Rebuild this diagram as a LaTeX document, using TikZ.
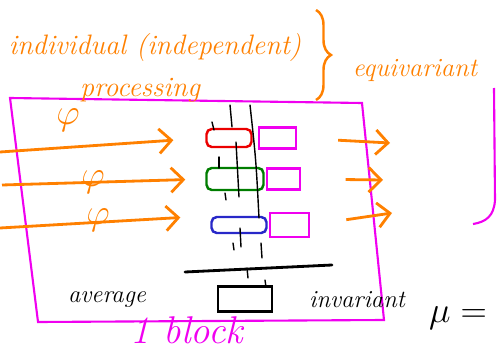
\documentclass[tikz,border=0pt]{standalone}
\usepackage{amsmath, amssymb}
\usepackage{tikz}
\usetikzlibrary{positioning}
\usetikzlibrary{arrows.meta, decorations.pathreplacing}
\definecolor{penorange}{RGB}{255,128,0}
\definecolor{penmagenta}{RGB}{240,0,240}
\definecolor{penred}{RGB}{235,0,0}
\definecolor{pengreen}{RGB}{0,125,0}
\definecolor{penblue}{RGB}{40,40,200}
\tikzstyle{note} = [text=penorange, font=\fontsize{16}{18}\selectfont\itshape, inner sep=0pt]
\tikzstyle{blacknote} = [text=black, font=\fontsize{14}{16}\selectfont\itshape, inner sep=0pt]
\tikzstyle{phibox} = [rectangle, rounded corners=3pt, line width=1.4pt, inner sep=0pt]
\tikzstyle{outbox} = [rectangle, draw=penmagenta, line width=1.4pt, inner sep=0pt]
\tikzstyle{flow} = [penorange, line width=1.6pt, ->, >={Straight Barb[length=7pt,width=14pt]}]
\tikzstyle{blockline} = [penmagenta, line width=1.2pt]
\tikzstyle{stroke} = [black, line width=0.8pt, line cap=round]

\begin{document}
\begin{tikzpicture}[x=0.02cm, y=-0.02cm]
\useasboundingbox (0,0) rectangle (497,358);
% the block
\draw [blockline] (10,98) -- (362,103) -- (384,320) -- (38,322) -- cycle;
\draw [blockline] (494,88) -- (495,200) .. controls (494,216) and (486,222) .. (473,224);
\node (block) [note, text=penmagenta, font=\fontsize{22}{24}\selectfont\itshape] at (187,330) {1 block};
% headings
\node (indiv) [note] at (155,47) {individual (independent)};
\node (proc) [note, below of=indiv, node distance=0.86cm, xshift=-0.3cm] {processing};
\draw [penorange, line width=1.4pt, decorate, decoration={brace, amplitude=0.3cm}] (316,10) -- (316,100);
\node (equiv) [note, font=\fontsize{15}{18}\selectfont\itshape] at (415,70) {equivariant};
% per-element boxes
\node (redbox) [phibox, draw=penred, minimum width=0.9cm, minimum height=0.36cm] at (229,138) {};
\node (outA) [outbox, right=0.1cm of redbox, minimum width=0.74cm, minimum height=0.42cm] {};
\node (greenbox) [phibox, draw=pengreen, minimum width=1.14cm, minimum height=0.44cm] at (235,179) {};
\node (outB) [outbox, right=0.02cm of greenbox, minimum width=0.66cm, minimum height=0.42cm] {};
\node (bluebox) [phibox, draw=penblue, minimum width=1.1cm, minimum height=0.32cm] at (239,225) {};
\node (outC) [outbox, right=0.02cm of bluebox, minimum width=0.78cm, minimum height=0.48cm] {};
% inputs through phi
\coordinate (inA) at (0,152);
\coordinate (inB) at (2,185);
\coordinate (inC) at (0,228);
\draw [flow, shorten >=0.64cm] (inA) -- (redbox.west);
\draw [flow, shorten >=0.4cm] (inB) -- (greenbox.west);
\draw [flow, shorten >=0.6cm] (inC) -- (bluebox.north west);
\node (phiA) [note, font=\fontsize{20}{20}\selectfont] at (68,120) {$\varphi$};
\node (phiB) [note, font=\fontsize{20}{20}\selectfont] at (93,182) {$\varphi$};
\node (phiC) [note, font=\fontsize{20}{20}\selectfont] at (98,220) {$\varphi$};
% equivariant outputs
\coordinate (eqA) at (390,143);
\coordinate (eqB) at (383,180);
\coordinate (eqC) at (392,213);
\draw [flow, shorten <=0.82cm] (outA.east) -- (eqA);
\draw [flow, shorten <=0.89cm] (outB.east) -- (eqB);
\draw [flow, shorten <=0.73cm] (outC.east) -- (eqC);
% pencil strokes
\foreach \xa/\ya/\xb/\yb in {230/105/232/127, 236/142/239/197, 212/122/214/130, 219/157/219/168, 225/193/226/200, 240/228/241/247, 233/243/234/250, 261/243/262/258, 247/268/248/278, 265/280/266/287}
  \draw [stroke] (\xa,\ya) -- (\xb,\yb);
\draw [stroke] (250,105) .. controls (256,160) .. (259,218);
% pooling
\draw [black, line width=1.6pt, line cap=round] (185,272) -- (332,265);
\node (pooled) [rectangle, draw, line width=1.2pt, minimum width=1.08cm, minimum height=0.5cm] at (245,299) {};
\node (avg) [blacknote] at (107,300) {average};
\node (inv) [blacknote] at (357,300) {invariant};
\node (mu) [blacknote, font=\fontsize{20}{20}\selectfont] at (458,318) {$\mu=$};
\end{tikzpicture}
\end{document}
